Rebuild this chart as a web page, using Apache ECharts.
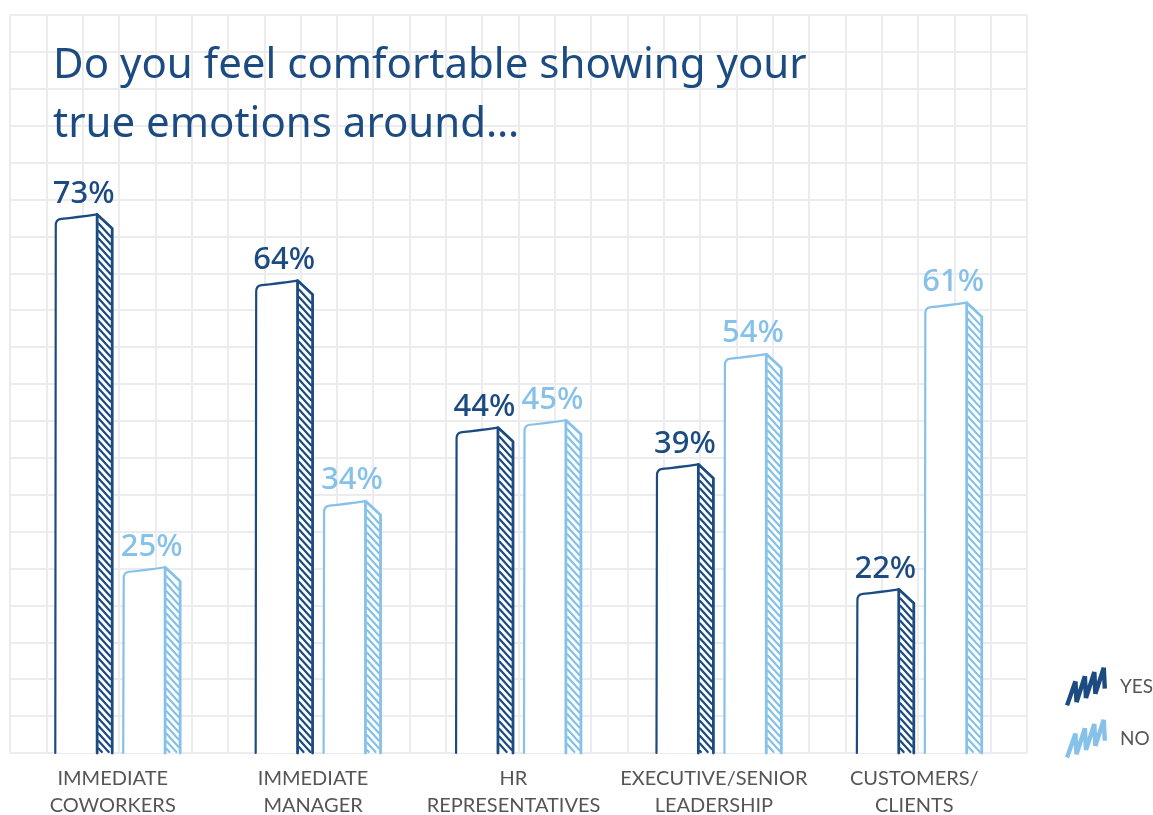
<!DOCTYPE html>
<html>
<head>
<meta charset="utf-8">
<script src="https://cdn.jsdelivr.net/npm/echarts@6/dist/echarts.min.js"></script>
<style>
  html, body { margin: 0; padding: 0; background: #ffffff; }
  #chart { width: 1153px; height: 815px; }
</style>
</head>
<body>
<div id="chart"></div>
<script>
// Survey answers (percent) per group of colleagues
const categories = [
  'IMMEDIATE\nCOWORKERS',
  'IMMEDIATE\nMANAGER',
  'HR\nREPRESENTATIVES',
  'EXECUTIVE/SENIOR\nLEADERSHIP',
  'CUSTOMERS/\nCLIENTS'
];
const yesValues = [73, 64, 44, 39, 22];
const noValues = [25, 34, 45, 54, 61];
const seriesNames = ['YES', 'NO'];

const YES_COLOR = '#1c4b82';
const NO_COLOR = '#85c1e9';
const HAND_FONT = '"Noto Sans", "DejaVu Sans", sans-serif';
const LABEL_FONT = 'Lato, "Noto Sans", sans-serif';

// Offsets of each bar's front face inside a category band (fraction of band)
const BAR_OFFSET = [-0.309, 0.03];
const FRONT_W = 0.209;
const SIDE_W = 0.075;

// Scribble icon for the legend, built from thin stroke quads
function scribblePath(points, t) {
  let d = '';
  for (let i = 0; i < points.length - 1; i++) {
    const [ax, ay] = points[i];
    const [bx, by] = points[i + 1];
    const dx = bx - ax, dy = by - ay;
    const len = Math.hypot(dx, dy);
    const nx = -dy / len * t / 2, ny = dx / len * t / 2;
    d += `M${ax + nx} ${ay + ny}L${bx + nx} ${by + ny}L${bx - nx} ${by - ny}L${ax - nx} ${ay - ny}Z`;
  }
  return 'path://' + d;
}
const scribbleIcon = scribblePath(
  [[3, 38], [11, 15], [12, 35], [20, 10], [21, 31], [29, 6], [30, 27], [38, 2], [39, 22]], 4.2
);

// Sketch-style bar: white front face, hatched side face, hand-drawn outline
function renderSketchBar(params, api) {
  const idx = api.value(0);
  const val = api.value(1);
  const basePt = api.coord([idx, 0]);
  const cx = basePt[0];
  const yb = basePt[1];
  const yt = api.coord([idx, val])[1];
  const band = api.size([1, 0])[0];
  const color = api.visual('color');

  const x0 = cx + BAR_OFFSET[params.seriesIndex] * band;
  const x1 = x0 + FRONT_W * band;
  const x2 = x1 + SIDE_W * band;
  const sideDrop = 12;

  // diagonal hatching on the side face
  let hatch = '';
  const sx = x1 + 1.5, exFull = x2 - 1.5;
  for (let ly = yt + 7; ly < yb - 2; ly += 7.5) {
    let ex = exFull;
    let ey = ly + (exFull - sx) * 1.1;
    if (ey > yb - 1) {
      ey = yb - 1;
      ex = sx + (ey - ly) / 1.1;
    }
    if (ex - sx < 1) continue;
    hatch += `M${sx} ${ly}L${ex} ${ey}`;
  }

  const frontOutline =
    `M${x0} ${yb}L${x0 + 0.5} ${yt + 10}` +
    `Q${x0} ${yt + 3} ${x0 + 6} ${yt + 2.5}` +
    `Q${(x0 + x1) / 2} ${yt + 1} ${x1} ${yt - 2}`;

  return {
    type: 'group',
    children: [
      {
        type: 'polygon',
        shape: { points: [[x0, yt + 3], [x1, yt - 2], [x1, yb], [x0, yb]] },
        style: { fill: '#ffffff', stroke: null }
      },
      {
        type: 'polygon',
        shape: { points: [[x1, yt - 2], [x2, yt + sideDrop], [x2, yb], [x1, yb]] },
        style: { fill: '#ffffff', stroke: null }
      },
      {
        type: 'path',
        shape: { pathData: hatch },
        style: { fill: null, stroke: color, lineWidth: 2.2, lineCap: 'round' }
      },
      {
        type: 'path',
        shape: { pathData: frontOutline },
        style: { fill: null, stroke: color, lineWidth: 2.2, lineCap: 'round', lineJoin: 'round' }
      },
      {
        type: 'polyline',
        shape: { points: [[x1, yb], [x1, yt - 2], [x2, yt + sideDrop], [x2, yb]] },
        style: { fill: null, stroke: color, lineWidth: 2.8, lineJoin: 'round', lineCap: 'round' }
      },
      {
        type: 'text',
        x: (x0 + x2) / 2,
        y: yt - 7,
        style: {
          text: val + '%',
          fill: color,
          fontSize: 31,
          fontFamily: HAND_FONT,
          fontWeight: 500,
          textAlign: 'center',
          textVerticalAlign: 'bottom',
          align: 'center',
          verticalAlign: 'bottom'
        }
      }
    ]
  };
}

const chart = echarts.init(document.getElementById('chart'), null, { renderer: 'canvas' });

const gridLine = { show: true, lineStyle: { color: '#ececee', width: 2 } };

chart.setOption({
  backgroundColor: '#ffffff',
  animation: false,
  title: {
    text: 'Do you feel comfortable showing your\ntrue emotions around…',
    left: 48,
    top: 32,
    textStyle: {
      color: YES_COLOR,
      fontFamily: HAND_FONT,
      fontWeight: 'normal',
      fontSize: 42,
      lineHeight: 59
    }
  },
  legend: {
    orient: 'vertical',
    left: 1060,
    top: 662,
    itemWidth: 42,
    itemHeight: 42,
    itemGap: 13,
    selectedMode: false,
    textStyle: { color: '#555555', fontSize: 19, fontFamily: LABEL_FONT, padding: [0, 0, 0, 8] },
    data: [
      { name: seriesNames[0], icon: scribbleIcon },
      { name: seriesNames[1], icon: scribbleIcon }
    ]
  },
  grid: [
    // graph-paper background
    { left: 10, right: 126, top: 15, bottom: 62, outerBoundsMode: 'none', containLabel: false },
    // bars
    { left: 17, right: 134, top: 18, bottom: 62, outerBoundsMode: 'none', containLabel: false }
  ],
  xAxis: [
    {
      type: 'value', gridIndex: 0, min: 0, max: 28, interval: 1,
      axisLine: { show: false }, axisTick: { show: false }, axisLabel: { show: false },
      splitLine: gridLine
    },
    {
      type: 'category', gridIndex: 1, data: categories,
      axisLine: { show: false }, axisTick: { show: false },
      axisLabel: {
        color: '#555555', fontSize: 20, fontFamily: LABEL_FONT,
        lineHeight: 27, margin: 12, interval: 0, padding: [0, 9, 0, 0]
      },
      splitLine: { show: false }
    }
  ],
  yAxis: [
    {
      type: 'value', gridIndex: 0, min: 0, max: 20, interval: 1,
      axisLine: { show: false }, axisTick: { show: false }, axisLabel: { show: false },
      splitLine: gridLine
    },
    {
      type: 'value', gridIndex: 1, min: 0, max: 100, interval: 10,
      axisLine: { show: false }, axisTick: { show: false }, axisLabel: { show: false },
      splitLine: { show: false }
    }
  ],
  series: [
    {
      name: seriesNames[0],
      type: 'custom',
      xAxisIndex: 1,
      yAxisIndex: 1,
      itemStyle: { color: YES_COLOR },
      renderItem: renderSketchBar,
      encode: { x: 0, y: 1 },
      data: yesValues.map((v, i) => [i, v])
    },
    {
      name: seriesNames[1],
      type: 'custom',
      xAxisIndex: 1,
      yAxisIndex: 1,
      itemStyle: { color: NO_COLOR },
      renderItem: renderSketchBar,
      encode: { x: 0, y: 1 },
      data: noValues.map((v, i) => [i, v])
    }
  ]
});
</script>
</body>
</html>
